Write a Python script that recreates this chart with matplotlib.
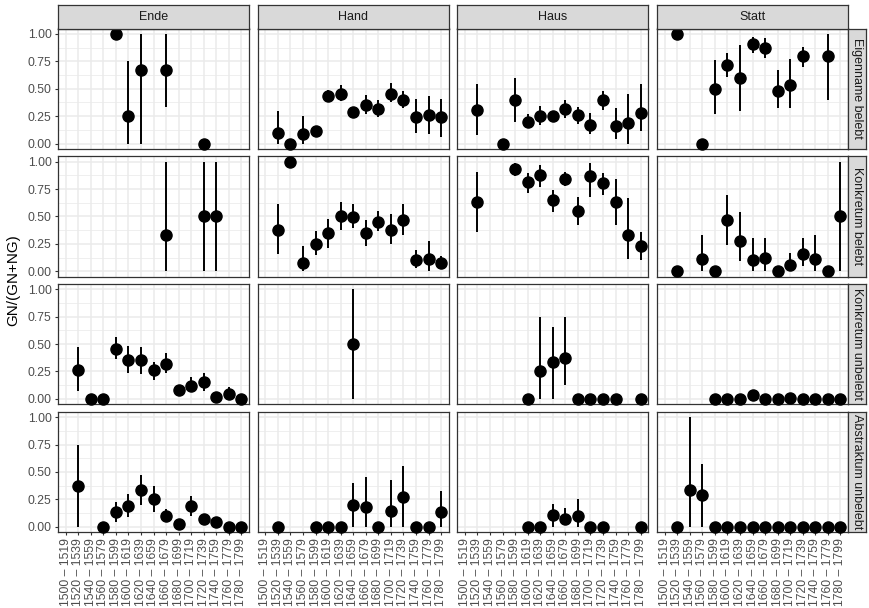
import matplotlib
matplotlib.use('Agg')
import matplotlib.pyplot as plt
import numpy as np

N = np.nan

# ---- Data ----
periods = ['1500 – 1519', '1520 – 1539', '1540 – 1559', '1560 – 1579', '1580 – 1599',
           '1600 – 1619', '1620 – 1639', '1640 – 1659', '1660 – 1679', '1680 – 1699',
           '1700 – 1719', '1720 – 1739', '1740 – 1759', '1760 – 1779', '1780 – 1799']
words = ['Ende', 'Hand', 'Haus', 'Statt']
classes = ['Eigenname belebt', 'Konkretum belebt', 'Konkretum unbelebt', 'Abstraktum unbelebt']
y_ticks = [0.0, 0.25, 0.5, 0.75, 1.0]
y_minor = [0.125, 0.375, 0.625, 0.875]

# Eigenname belebt
ende_eb_y  = [N, N, N, N, 1.0, 0.25, 0.667, N, 0.667, N, N, 0.0, N, N, N]
ende_eb_lo = [N, N, N, N, 1.0, 0.0, 0.0, N, 0.333, N, N, 0.0, N, N, N]
ende_eb_hi = [N, N, N, N, 1.0, 0.75, 1.0, N, 1.0, N, N, 0.0, N, N, N]
hand_eb_y  = [N, 0.10, 0.0, 0.085, 0.11, 0.435, 0.456, 0.286, 0.356, 0.316, 0.453, 0.395, 0.24, 0.26, 0.24]
hand_eb_lo = [N, 0.0, 0.0, 0.0, 0.10, 0.38, 0.39, 0.24, 0.27, 0.24, 0.38, 0.32, 0.10, 0.09, 0.064]
hand_eb_hi = [N, 0.30, 0.0, 0.255, 0.12, 0.49, 0.53, 0.32, 0.44, 0.40, 0.55, 0.48, 0.41, 0.43, 0.41]
haus_eb_y  = [N, 0.31, N, 0.0, 0.40, 0.20, 0.25, 0.25, 0.316, 0.26, 0.17, 0.395, 0.16, 0.185, 0.28]
haus_eb_lo = [N, 0.08, N, 0.0, 0.20, 0.16, 0.17, 0.22, 0.23, 0.18, 0.09, 0.31, 0.04, 0.0, 0.11]
haus_eb_hi = [N, 0.54, N, 0.0, 0.60, 0.27, 0.34, 0.30, 0.40, 0.33, 0.28, 0.48, 0.32, 0.45, 0.54]
statt_eb_y  = [N, 1.0, N, 0.0, 0.50, 0.72, 0.60, 0.905, 0.875, 0.477, 0.53, 0.80, N, 0.80, N]
statt_eb_lo = [N, 1.0, N, 0.0, 0.27, 0.61, 0.30, 0.83, 0.78, 0.32, 0.32, 0.70, N, 0.40, N]
statt_eb_hi = [N, 1.0, N, 0.0, 0.76, 0.83, 0.90, 0.97, 0.96, 0.67, 0.77, 0.88, N, 1.0, N]

# Konkretum belebt
ende_kb_y  = [N, N, N, N, N, N, N, N, 0.333, N, N, 0.5, 0.5, N, N]
ende_kb_lo = [N, N, N, N, N, N, N, N, 0.0, N, N, 0.0, 0.0, N, N]
ende_kb_hi = [N, N, N, N, N, N, N, N, 1.0, N, N, 1.0, 1.0, N, N]
hand_kb_y  = [N, 0.38, 1.0, 0.073, 0.247, 0.345, 0.503, 0.497, 0.35, 0.45, 0.372, 0.466, 0.098, 0.11, 0.076]
hand_kb_lo = [N, 0.155, 1.0, 0.0, 0.15, 0.21, 0.38, 0.39, 0.23, 0.37, 0.25, 0.33, 0.03, 0.0, 0.03]
hand_kb_hi = [N, 0.61, 1.0, 0.23, 0.37, 0.48, 0.63, 0.61, 0.47, 0.55, 0.52, 0.61, 0.19, 0.28, 0.14]
haus_kb_y  = [N, 0.634, N, N, 0.936, 0.814, 0.878, 0.646, 0.838, 0.546, 0.869, 0.808, 0.631, 0.332, 0.232]
haus_kb_lo = [N, 0.36, N, N, 0.87, 0.71, 0.77, 0.54, 0.78, 0.42, 0.68, 0.70, 0.42, 0.11, 0.10]
haus_kb_hi = [N, 0.91, N, N, 0.99, 0.90, 0.97, 0.74, 0.91, 0.68, 0.99, 0.90, 0.84, 0.67, 0.36]
statt_kb_y  = [N, 0.0, N, 0.113, 0.0, 0.47, 0.277, 0.104, 0.119, 0.0, 0.058, 0.155, 0.11, 0.0, 0.50]
statt_kb_lo = [N, 0.0, N, 0.0, 0.0, 0.24, 0.09, 0.0, 0.0, 0.0, 0.0, 0.05, 0.0, 0.0, 0.0]
statt_kb_hi = [N, 0.0, N, 0.33, 0.0, 0.70, 0.54, 0.30, 0.30, 0.0, 0.17, 0.30, 0.33, 0.0, 1.0]

# Konkretum unbelebt
ende_ku_y  = [N, 0.265, 0.0, 0.0, 0.457, 0.35, 0.35, 0.26, 0.32, 0.085, 0.12, 0.152, 0.02, 0.04, 0.0]
ende_ku_lo = [N, 0.07, 0.0, 0.0, 0.36, 0.24, 0.23, 0.17, 0.24, 0.04, 0.06, 0.07, 0.0, 0.0, 0.0]
ende_ku_hi = [N, 0.47, 0.0, 0.0, 0.56, 0.48, 0.47, 0.34, 0.42, 0.13, 0.20, 0.24, 0.04, 0.11, 0.0]
hand_ku_y  = [N, N, N, N, N, N, N, 0.5, N, N, N, N, N, N, N]
hand_ku_lo = [N, N, N, N, N, N, N, 0.0, N, N, N, N, N, N, N]
hand_ku_hi = [N, N, N, N, N, N, N, 1.0, N, N, N, N, N, N, N]
haus_ku_y  = [N, N, N, N, N, 0.0, 0.253, 0.335, 0.375, 0.0, 0.0, 0.0, 0.0, N, 0.0]
haus_ku_lo = [N, N, N, N, N, 0.0, 0.0, 0.0, 0.13, 0.0, 0.0, 0.0, 0.0, N, 0.0]
haus_ku_hi = [N, N, N, N, N, 0.0, 0.75, 0.66, 0.75, 0.0, 0.0, 0.0, 0.0, N, 0.0]
statt_ku_y  = [N, N, N, N, 0.0, 0.0, 0.0, 0.033, 0.0, 0.0, 0.012, 0.0, 0.0, 0.0, 0.0]
statt_ku_lo = [N, N, N, N, 0.0, 0.0, 0.0, 0.0, 0.0, 0.0, 0.0, 0.0, 0.0, 0.0, 0.0]
statt_ku_hi = [N, N, N, N, 0.0, 0.0, 0.0, 0.08, 0.0, 0.0, 0.03, 0.0, 0.0, 0.0, 0.0]

# Abstraktum unbelebt
ende_au_y  = [N, 0.375, N, 0.0, 0.134, 0.186, 0.332, 0.253, 0.098, 0.027, 0.186, 0.073, 0.046, 0.0, 0.0]
ende_au_lo = [N, 0.0, N, 0.0, 0.04, 0.09, 0.20, 0.13, 0.04, 0.01, 0.10, 0.03, 0.01, 0.0, 0.0]
ende_au_hi = [N, 0.75, N, 0.0, 0.23, 0.30, 0.47, 0.37, 0.16, 0.04, 0.28, 0.12, 0.08, 0.0, 0.0]
hand_au_y  = [N, 0.0, N, N, 0.0, 0.0, 0.0, 0.20, 0.183, 0.0, 0.143, 0.274, 0.0, 0.0, 0.134]
hand_au_lo = [N, 0.0, N, N, 0.0, 0.0, 0.0, 0.0, 0.0, 0.0, 0.0, 0.0, 0.0, 0.0, 0.0]
hand_au_hi = [N, 0.0, N, N, 0.0, 0.0, 0.0, 0.40, 0.45, 0.0, 0.43, 0.55, 0.0, 0.0, 0.33]
haus_au_y  = [N, N, N, N, N, 0.0, 0.0, 0.107, 0.073, 0.10, 0.0, 0.0, N, N, 0.0]
haus_au_lo = [N, N, N, N, N, 0.0, 0.0, 0.0, 0.02, 0.0, 0.0, 0.0, N, N, 0.0]
haus_au_hi = [N, N, N, N, N, 0.0, 0.0, 0.21, 0.17, 0.25, 0.0, 0.0, N, N, 0.0]
statt_au_y  = [N, 0.0, 0.335, 0.287, 0.0, 0.0, 0.0, 0.0, 0.0, 0.0, 0.0, 0.0, 0.0, 0.0, 0.0]
statt_au_lo = [N, 0.0, 0.0, 0.0, 0.0, 0.0, 0.0, 0.0, 0.0, 0.0, 0.0, 0.0, 0.0, 0.0, 0.0]
statt_au_hi = [N, 0.0, 1.0, 0.573, 0.0, 0.0, 0.0, 0.0, 0.0, 0.0, 0.0, 0.0, 0.0, 0.0, 0.0]

panels = [
    [(ende_eb_y, ende_eb_lo, ende_eb_hi), (hand_eb_y, hand_eb_lo, hand_eb_hi),
     (haus_eb_y, haus_eb_lo, haus_eb_hi), (statt_eb_y, statt_eb_lo, statt_eb_hi)],
    [(ende_kb_y, ende_kb_lo, ende_kb_hi), (hand_kb_y, hand_kb_lo, hand_kb_hi),
     (haus_kb_y, haus_kb_lo, haus_kb_hi), (statt_kb_y, statt_kb_lo, statt_kb_hi)],
    [(ende_ku_y, ende_ku_lo, ende_ku_hi), (hand_ku_y, hand_ku_lo, hand_ku_hi),
     (haus_ku_y, haus_ku_lo, haus_ku_hi), (statt_ku_y, statt_ku_lo, statt_ku_hi)],
    [(ende_au_y, ende_au_lo, ende_au_hi), (hand_au_y, hand_au_lo, hand_au_hi),
     (haus_au_y, haus_au_lo, haus_au_hi), (statt_au_y, statt_au_lo, statt_au_hi)],
]

# ---- Layout (pixel geometry of the ggplot facet grid) ----
W, H = 869, 608
PANEL_W, PANEL_H = 191, 120.5
COL_X = [58, 257.7, 457.3, 657]
ROW_Y = [28.5, 156.2, 283.8, 411.7]
STRIP_H, STRIP_W = 24, 18

GRID = '#EBEBEB'
BORDER = '#333333'
STRIP_FILL = '#D9D9D9'
TICK_COL = '#4D4D4D'

plt.rcParams['font.family'] = ['Liberation Sans', 'DejaVu Sans']
fig = plt.figure(figsize=(W / 100, H / 100), dpi=100)


def fbox(x, y, w, h):
    return [x / W, 1 - (y + h) / H, w / W, h / H]


def strip(x, y, w, h, label, rot):
    sax = fig.add_axes(fbox(x, y, w, h))
    sax.set_facecolor(STRIP_FILL)
    sax.set_xticks([])
    sax.set_yticks([])
    for s in sax.spines.values():
        s.set_color(BORDER)
        s.set_linewidth(0.9)
    sax.text(0.5, 0.5, label, ha='center', va='center', rotation=rot,
             fontsize=9, color='#1A1A1A', transform=sax.transAxes)


x = np.arange(len(periods))
for r in range(4):
    for c in range(4):
        ax = fig.add_axes(fbox(COL_X[c], ROW_Y[r], PANEL_W, PANEL_H))
        yv, lo, hi = (np.array(a, dtype=float) for a in panels[r][c])
        ax.vlines(x, lo, hi, color='black', lw=1.4, zorder=3)
        ax.plot(x, yv, 'o', color='black', ms=8, zorder=4, clip_on=False)

        ax.set_xlim(-0.6, len(periods) - 0.4)
        ax.set_ylim(-0.05, 1.05)
        ax.set_xticks(x)
        ax.set_yticks(y_ticks)
        ax.set_yticks(y_minor, minor=True)
        ax.grid(True, which='major', color=GRID, lw=1.1, zorder=0)
        ax.grid(True, which='minor', axis='y', color=GRID, lw=0.55, zorder=0)
        ax.set_axisbelow(True)
        for s in ax.spines.values():
            s.set_color(BORDER)
            s.set_linewidth(0.9)
        ax.tick_params(which='major', length=2.5, color=BORDER, width=0.8,
                       labelsize=8.8, labelcolor=TICK_COL, pad=2)
        ax.tick_params(which='minor', length=0)
        if c == 0:
            ax.set_yticklabels(['0.00', '0.25', '0.50', '0.75', '1.00'])
        else:
            ax.tick_params(axis='y', which='major', left=False, labelleft=False)
        if r == 3:
            ax.set_xticklabels(periods, rotation=90)
        else:
            ax.tick_params(axis='x', bottom=False, labelbottom=False)

        if r == 0:
            strip(COL_X[c], ROW_Y[0] - STRIP_H, PANEL_W, STRIP_H, words[c], 0)
        if c == 3:
            strip(COL_X[3] + PANEL_W, ROW_Y[r], STRIP_W, PANEL_H, classes[r], -90)

fig.text(13 / W, 1 - 280 / H, 'GN/(GN+NG)', rotation=90, ha='center', va='center',
         fontsize=11, color='black')

fig.savefig('out.png', dpi=100, facecolor='white')
